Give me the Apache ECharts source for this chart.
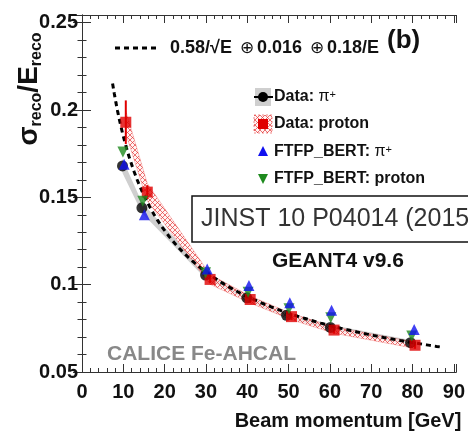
<!DOCTYPE html>
<html>
<head>
<meta charset="utf-8">
<script src="https://cdn.jsdelivr.net/npm/echarts@6/dist/echarts.min.js"></script>
<style>
  html, body { margin: 0; padding: 0; background: #fff; }
  #chart { width: 468px; height: 431px; }
</style>
</head>
<body>
<div id="chart"></div>
<script>
// Energy resolution vs beam momentum, CALICE Fe-AHCAL
const FONT = 'Liberation Sans, Arial, Helvetica, sans-serif';

// Beam momentum of each measured point [GeV], per sample
const pionDataE    = [9.8, 14.5, 29.9, 39.9, 49.5, 60.1, 79.5];
const protonDataE  = [10.6, 15.8, 31.0, 40.7, 50.7, 61.0, 80.6];
const pionSimE     = [10.2, 15.1, 30.3, 40.4, 50.3, 60.4, 80.4];
const protonSimE   = [9.9, 14.7, 29.9, 40.2, 50.1, 60.2, 79.8];

// sigma_reco / E_reco
const pionData     = [0.168, 0.144, 0.1055, 0.0925, 0.0825, 0.0755, 0.0668];
const protonData   = [0.193, 0.153, 0.103, 0.0915, 0.0817, 0.0740, 0.0653];
const pionSim      = [0.169, 0.140, 0.109, 0.0995, 0.0897, 0.0853, 0.0744];
const protonSim    = [0.176, 0.1477, 0.1068, 0.0957, 0.0862, 0.0811, 0.0706];

// statistical errors (proton) and systematic bands
const protonStat   = [0.0125, 0.004, 0.002, 0.002, 0.002, 0.002, 0.002];
const pionSyst     = [0.004, 0.003, 0.002, 0.0015, 0.0015, 0.0015, 0.0015];
const protonSyst   = [0.0065, 0.005, 0.0028, 0.002, 0.0018, 0.0018, 0.0018];

// fitted resolution: a/sqrt(E) (+) b (+) c/E
const fitStochastic = 0.58;
const fitConstant   = 0.016;
const fitNoise      = 0.18;
const fitRange      = [7.4, 87.4];

// axis ranges and ticks
const xRange = [0, 90.6], xMajor = 10, xMinor = 2;
const yRange = [0.05, 0.2544], yMajor = 0.05, yMinor = 0.01;

const fitCurve = [];
for (let e = fitRange[0]; e <= fitRange[1] + 1e-9; e += 0.4) {
  const s = fitStochastic / Math.sqrt(e), n = fitNoise / e;
  fitCurve.push([e, Math.sqrt(s * s + fitConstant * fitConstant + n * n)]);
}

const zip = (xs, ys) => xs.map((x, i) => [x, ys[i]]);

// red cross-hatch used for the proton systematic band
const hatch = document.createElement('canvas');
hatch.width = 5; hatch.height = 5;
(function () {
  const c = hatch.getContext('2d');
  c.fillStyle = 'rgba(255,235,235,0.6)';
  c.fillRect(0, 0, 5, 5);
  c.strokeStyle = 'rgba(228,60,60,0.8)';
  c.lineWidth = 0.9;
  c.beginPath();
  c.moveTo(0, 0); c.lineTo(5, 5);
  c.moveTo(5, 0); c.lineTo(0, 5);
  c.stroke();
})();

function bandSeries(xs, ys, errs, style, z) {
  return {
    type: 'custom', z: z, silent: true, clip: true,
    data: [[xs[0], ys[0]]],
    renderItem: function (params, api) {
      const up = xs.map((x, i) => api.coord([x, ys[i] + errs[i]]));
      const lo = xs.map((x, i) => api.coord([x, ys[i] - errs[i]])).reverse();
      return { type: 'polygon', shape: { points: up.concat(lo) }, style: style };
    }
  };
}

function errorSeries(xs, ys, errs, color, z) {
  return {
    type: 'custom', z: z, silent: true,
    data: xs.map((x, i) => [x, ys[i] - errs[i], ys[i] + errs[i]]),
    renderItem: function (params, api) {
      const a = api.coord([api.value(0), api.value(1)]);
      const b = api.coord([api.value(0), api.value(2)]);
      return { type: 'line', shape: { x1: a[0], y1: a[1], x2: b[0], y2: b[1] },
               style: { stroke: color, lineWidth: 2 } };
    }
  };
}

const lineStyle = { color: '#333', width: 1 };
function xAxisDef(pos, interval, len, main) {
  return {
    type: 'value', position: pos, min: xRange[0], max: xRange[1], interval: interval,
    axisLine: { show: main, lineStyle: lineStyle },
    axisTick: { show: true, inside: true, length: len, lineStyle: lineStyle },
    splitLine: { show: false },
    axisLabel: { show: false }
  };
}
function yAxisDef(pos, interval, len, main) {
  return {
    type: 'value', position: pos, min: yRange[0], max: yRange[1], interval: interval,
    axisLine: { show: main, lineStyle: lineStyle },
    axisTick: { show: true, inside: true, length: len, lineStyle: lineStyle },
    splitLine: { show: false },
    axisLabel: { show: false }
  };
}

const xMain = xAxisDef('bottom', xMajor, 8, true);
xMain.axisLabel = {
  show: true, margin: 10, color: '#111', fontFamily: FONT, fontWeight: 'bold', fontSize: 20,
  formatter: v => (Math.abs(v / xMajor - Math.round(v / xMajor)) < 1e-6 ? String(Math.round(v)) : '')
};
xMain.name = 'Beam momentum [GeV]';
xMain.nameLocation = 'end';
xMain.nameGap = 5;
xMain.nameTextStyle = { color: '#111', fontFamily: FONT, fontWeight: 'bold', fontSize: 20,
                        align: 'right', verticalAlign: 'top', padding: [39, 0, 0, 0] };

const yMain = yAxisDef('left', yMajor, 9, true);
yMain.axisLabel = {
  show: true, margin: 4, color: '#111', fontFamily: FONT, fontWeight: 'bold', fontSize: 20,
  formatter: v => (Math.abs(v / yMajor - Math.round(v / yMajor)) < 1e-6 ? String(+v.toFixed(2)) : '')
};

const option = {
  animation: false,
  backgroundColor: '#fff',
  grid: { left: 82, right: 8, top: 15, bottom: 58, containLabel: false },
  xAxis: [
    xMain,
    xAxisDef('bottom', xMinor, 4, false),
    xAxisDef('top', xMajor, 8, true),
    xAxisDef('top', xMinor, 4, false)
  ],
  yAxis: [
    yMain,
    yAxisDef('left', yMinor, 4.5, false),
    yAxisDef('right', yMajor, 9, true),
    yAxisDef('right', yMinor, 4.5, false)
  ],
  series: [
    bandSeries(pionDataE, pionData, pionSyst, { fill: '#cfcfcf' }, 1),
    bandSeries(protonDataE, protonData, protonSyst,
               { fill: { image: hatch, repeat: 'repeat' }, stroke: 'rgba(232,65,63,0.3)', lineWidth: 1 }, 2),
    {
      type: 'line', z: 3, data: fitCurve, showSymbol: false, silent: true, smooth: false,
      lineStyle: { color: '#000', width: 3, type: [5, 4] }
    },
    errorSeries(protonDataE, protonData, protonStat, '#e00000', 4),
    {
      name: 'Data: π+', type: 'scatter', z: 5, data: zip(pionDataE, pionData),
      symbol: 'circle', symbolSize: 11, itemStyle: { color: '#000' }
    },
    {
      name: 'Data: proton', type: 'scatter', z: 6, data: zip(protonDataE, protonData),
      symbol: 'rect', symbolSize: 11, itemStyle: { color: '#e00000' }
    },
    {
      name: 'FTFP_BERT: proton', type: 'scatter', z: 7, data: zip(protonSimE, protonSim),
      symbol: 'triangle', symbolRotate: 180, symbolSize: 11, itemStyle: { color: '#1e8a1e' }
    },
    {
      name: 'FTFP_BERT: π+', type: 'scatter', z: 8, data: zip(pionSimE, pionSim),
      symbol: 'triangle', symbolSize: 11, itemStyle: { color: '#1010f0' }
    }
  ],
  graphic: [
    // y-axis title
    {
      type: 'text', x: 31, y: 89, rotation: Math.PI / 2,
      style: {
        text: '{m|σ}{s|reco}{m|/E}{s|reco}',
        align: 'center', verticalAlign: 'middle', fill: '#111',
        rich: {
          m: { fontFamily: FONT, fontWeight: 'bold', fontSize: 28, lineHeight: 28, verticalAlign: 'bottom', padding: [0, 0, 2, 0], fill: '#111' },
          s: { fontFamily: FONT, fontWeight: 'bold', fontSize: 16, lineHeight: 16, verticalAlign: 'bottom', fill: '#111' }
        }
      }
    },
    // fit legend entry
    { type: 'line', shape: { x1: 115, y1: 48, x2: 158, y2: 48 },
      style: { stroke: '#000', lineWidth: 3, lineDash: [5, 4] } },
    {
      type: 'text', x: 170, y: 48,
      style: {
        text: '{b|0.58/√E }{o|⊕}{b|0.016 }{o|⊕}{b|0.18/E}',
        verticalAlign: 'middle', fill: '#111',
        rich: {
          b: { fontFamily: FONT, fontWeight: 'bold', fontSize: 18, fill: '#111' },
          o: { fontFamily: FONT, fontSize: 17, fill: '#111', padding: [0, 3, 0, 3] }
        }
      }
    },
    { type: 'text', x: 387, y: 41,
      style: { text: '(b)', fontFamily: FONT, fontWeight: 'bold', fontSize: 26, fill: '#111', verticalAlign: 'middle' } },

    // sample legend
    { type: 'rect', shape: { x: 255, y: 88, width: 16, height: 18 }, style: { fill: '#cfcfcf' } },
    { type: 'line', shape: { x1: 254, y1: 97, x2: 273, y2: 97 }, style: { stroke: '#000', lineWidth: 2 } },
    { type: 'circle', shape: { cx: 263, cy: 97, r: 5 }, style: { fill: '#000' } },
    { type: 'rect', shape: { x: 254, y: 115, width: 18, height: 18 },
      style: { fill: { image: hatch, repeat: 'repeat' }, stroke: 'rgba(232,65,63,0.6)', lineWidth: 1, lineDash: [2, 2] } },
    { type: 'rect', shape: { x: 258, y: 119, width: 10, height: 10 }, style: { fill: '#e00000' } },
    { type: 'polygon', shape: { points: [[263, 146], [268, 156], [258, 156]] }, style: { fill: '#1010f0' } },
    { type: 'polygon', shape: { points: [[258, 174], [268, 174], [263, 184]] }, style: { fill: '#1e8a1e' } },
    {
      type: 'text', x: 274, y: 97,
      style: { text: '{b|Data: }{p|π}{u|+}', verticalAlign: 'middle',
        rich: {
          b: { fontFamily: FONT, fontWeight: 'bold', fontSize: 16, fill: '#111' },
          p: { fontFamily: FONT, fontSize: 16, fill: '#111' },
          u: { fontFamily: FONT, fontSize: 11, fill: '#111', verticalAlign: 'top', lineHeight: 11 }
        } }
    },
    { type: 'text', x: 274, y: 124,
      style: { text: 'Data: proton', fontFamily: FONT, fontWeight: 'bold', fontSize: 16, fill: '#111', verticalAlign: 'middle' } },
    {
      type: 'text', x: 274, y: 152,
      style: { text: '{b|FTFP_BERT: }{p|π}{u|+}', verticalAlign: 'middle',
        rich: {
          b: { fontFamily: FONT, fontWeight: 'bold', fontSize: 16, fill: '#111' },
          p: { fontFamily: FONT, fontSize: 16, fill: '#111' },
          u: { fontFamily: FONT, fontSize: 11, fill: '#111', verticalAlign: 'top', lineHeight: 11 }
        } }
    },
    { type: 'text', x: 274, y: 179,
      style: { text: 'FTFP_BERT: proton', fontFamily: FONT, fontWeight: 'bold', fontSize: 16, fill: '#111', verticalAlign: 'middle' } },

    // annotations
    { type: 'text', x: 272, y: 261,
      style: { text: 'GEANT4 v9.6', fontFamily: FONT, fontWeight: 'bold', fontSize: 21, fill: '#111', verticalAlign: 'middle' } },
    { type: 'text', x: 107, y: 354,
      style: { text: 'CALICE Fe-AHCAL', fontFamily: FONT, fontWeight: 'bold', fontSize: 21, fill: '#888', verticalAlign: 'middle' } },

    // publication reference box
    { type: 'rect', z: 100, shape: { x: 192, y: 196, width: 300, height: 46 },
      style: { fill: '#fff', stroke: '#111', lineWidth: 1.5 } },
    { type: 'text', z: 101, x: 201, y: 219,
      style: { text: 'JINST 10 P04014 (2015)', fontFamily: FONT, fontSize: 25, fill: '#333', verticalAlign: 'middle' } }
  ]
};

const chart = echarts.init(document.getElementById('chart'), null, { renderer: 'canvas' });
chart.setOption(option);
</script>
</body>
</html>
